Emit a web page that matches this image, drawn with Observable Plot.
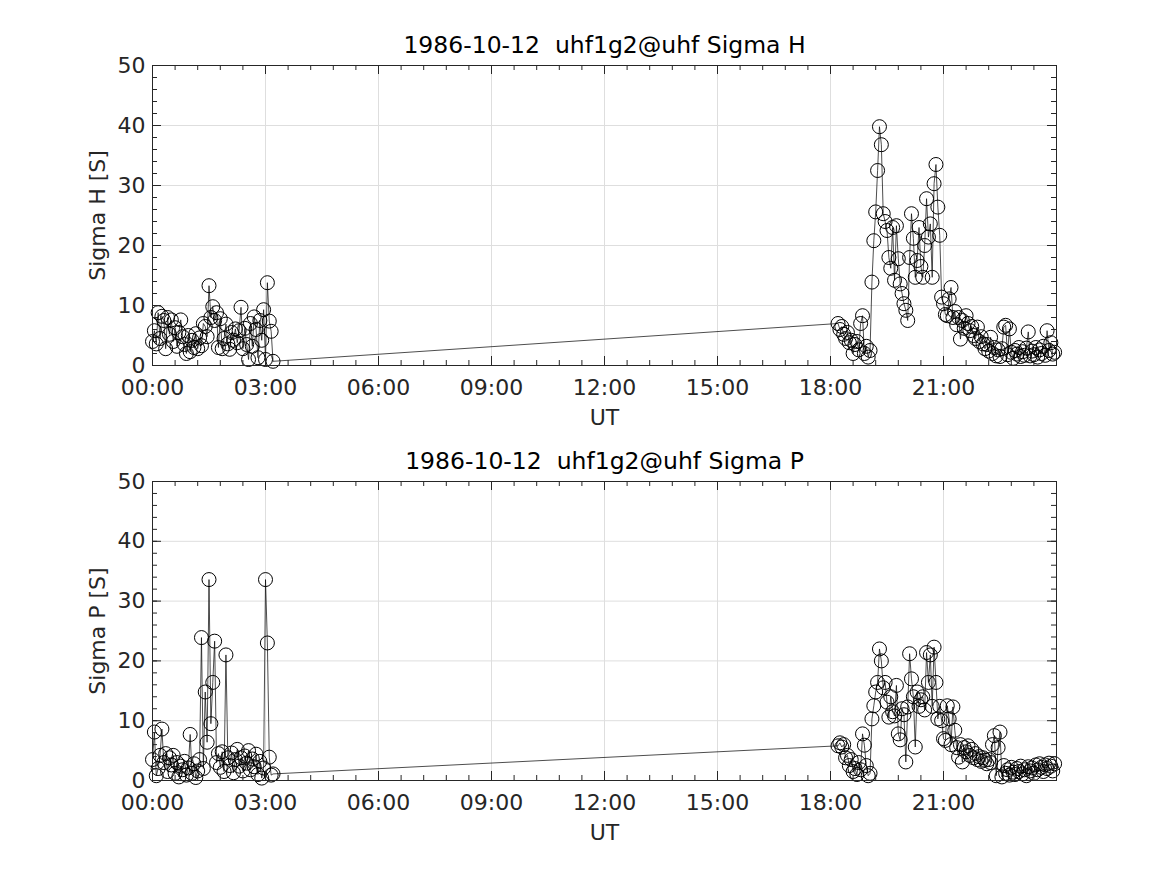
<!DOCTYPE html>
<html><head><meta charset="utf-8">
<script src="https://cdn.jsdelivr.net/npm/d3@7"></script>
<script src="https://cdn.jsdelivr.net/npm/@observablehq/plot@0.6"></script>
<style>
body{margin:0;background:#fff;}
#chart{position:relative;width:1167px;height:875px;background:#fff;overflow:hidden;}
#chart svg{position:absolute;left:0;display:block;}
</style></head><body><div id="chart"></div>
<script>
// Time of each sample, minutes after 00:00 UT
const timeMinutes = [
  0,3,6,9,12,15,18,21,24,27,
  30,33,36,39,42,45,48,51,54,57,
  60,63,66,69,72,75,78,81,84,87,
  90,93,96,99,102,105,108,111,114,117,
  120,123,126,129,132,135,138,141,144,147,
  150,153,156,159,162,165,168,171,174,177,
  180,183,186,189,192,
  1092,1095,1098,1101,1104,1107,
  1110,1113,1116,1119,1122,1125,
  1128,1131,1134,1137,1140,1143,
  1146,1149,1152,1155,1158,1161,
  1164,1167,1170,1173,1176,1179,
  1182,1185,1188,1191,1194,1197,
  1200,1203,1206,1209,1212,1215,
  1218,1221,1224,1227,1230,1233,
  1236,1239,1242,1245,1248,1251,
  1254,1257,1260,1263,1266,1269,
  1272,1275,1278,1281,1284,1287,
  1290,1293,1296,1299,1302,1305,
  1308,1311,1314,1317,1320,1323,
  1326,1329,1332,1335,1338,1341,
  1344,1347,1350,1353,1356,1359,
  1362,1365,1368,1371,1374,1377,
  1380,1383,1386,1389,1392,1395,
  1398,1401,1404,1407,1410,1413,
  1416,1419,1422,1425,1428,1431,
  1434,1437
];
// Hall conductance [S]
const sigmaH = [
  4.0,5.8,3.6,8.8,4.5,8.2,7.5,2.8,8.0,5.2,
  7.6,4.0,6.3,3.2,5.5,7.6,4.8,3.5,2.0,5.0,
  2.3,4.2,3.0,5.3,2.8,4.6,3.3,7.0,6.5,4.8,
  13.3,8.0,9.8,7.5,8.8,3.0,7.8,2.8,4.5,6.9,
  3.6,2.7,5.5,4.2,6.1,3.8,5.8,9.7,2.8,6.2,
  3.5,1.0,7.0,3.2,8.1,6.0,1.3,7.5,4.2,9.3,
  1.0,13.8,7.4,5.7,0.7,
  7.0,6.0,6.5,5.2,4.5,5.5,
  3.8,4.2,2.0,3.5,4.0,2.6,
  7.0,8.3,2.0,3.2,1.4,2.5,
  13.9,20.8,25.6,32.5,39.8,36.8,
  25.3,24.0,22.5,18.0,16.2,23.0,
  14.2,23.3,17.8,13.6,12.0,10.3,
  9.2,7.5,18.0,25.3,21.2,14.7,
  17.5,23.0,16.5,14.7,20.0,27.8,
  21.4,23.6,14.7,30.3,33.5,26.4,
  21.7,11.4,10.3,8.5,8.3,11.1,
  13.0,8.0,9.0,6.8,8.0,4.4,
  7.5,6.2,8.3,7.0,5.8,6.5,
  5.0,4.5,6.4,4.0,4.8,3.6,
  2.8,3.5,2.4,4.7,2.0,3.0,
  1.6,2.6,1.5,2.8,6.4,6.7,
  1.8,6.1,2.2,1.2,2.5,1.9,
  3.0,1.5,2.3,1.7,2.9,5.6,
  1.6,2.4,1.8,3.0,1.4,2.6,
  2.0,3.2,1.7,5.8,2.5,3.8,
  1.9,2.2
];
// Pedersen conductance [S]
const sigmaP = [
  3.5,8.1,0.8,2.0,4.2,8.6,3.0,4.5,1.5,3.8,
  2.6,4.2,1.2,3.0,0.6,2.4,1.8,3.2,0.9,2.1,
  7.7,1.2,2.8,0.5,1.6,3.5,23.9,2.0,14.8,6.4,
  33.6,9.5,16.4,23.3,3.0,4.5,2.2,4.8,1.5,21.0,
  3.8,2.5,4.6,1.3,3.5,5.2,2.4,3.8,1.6,4.1,
  2.9,5.0,1.8,3.6,2.3,4.4,1.0,3.2,0.4,2.1,
  33.6,23.0,3.9,0.9,1.1,
  5.8,6.3,5.6,6.0,3.8,4.2,
  2.5,3.5,1.5,2.0,1.0,3.0,
  1.8,7.8,5.9,2.5,0.8,1.2,
  10.3,12.5,14.8,16.4,22.0,20.0,
  15.5,16.4,13.1,10.6,14.0,11.5,
  10.8,15.9,7.8,6.8,12.0,11.0,
  3.1,12.3,21.2,17.0,14.0,5.6,
  14.8,12.4,13.5,14.0,11.8,21.4,
  16.4,21.0,12.4,22.3,16.4,10.3,
  12.4,10.0,7.0,6.7,12.5,10.3,
  6.0,12.3,8.4,5.5,3.9,6.0,
  3.1,5.5,4.8,5.8,4.2,5.2,
  3.8,4.5,3.5,4.0,3.2,3.8,
  3.4,2.8,3.5,3.0,6.0,7.5,
  0.8,5.5,8.1,0.6,2.5,1.2,
  1.8,0.9,2.2,1.4,1.0,2.0,
  1.5,2.4,1.1,1.8,0.8,2.3,
  1.6,2.1,1.2,2.6,1.8,2.8,
  2.2,1.5,2.6,2.0,2.9,2.4,
  1.6,2.8
];
const xTickMinutes = [0,180,360,540,720,900,1080,1260];
const xTickLabels = ["00:00","03:00","06:00","09:00","12:00","15:00","18:00","21:00"];
const yTicks = [0,10,20,30,40,50];
const titles = ["1986-10-12  uhf1g2@uhf Sigma H","1986-10-12  uhf1g2@uhf Sigma P"];
const yLabels = ["Sigma H [S]","Sigma P [S]"];
const xLabel = "UT";

if (sigmaH.length !== timeMinutes.length || sigmaP.length !== timeMinutes.length) {
  throw new Error("length mismatch " + timeMinutes.length + " " + sigmaH.length + " " + sigmaP.length);
}

const xMinor = d3.range(0, 1441, 36);
const yMinor = d3.range(0, 51, 2);
const ink = "#262626", gridColor = "#dedede";
const W = 1167, mL = 152, mR = 111;
const font = "'DejaVu Sans', sans-serif";

function panel(values, title, ylabel, top, height, mTop, mBottom) {
  const fw = W - mL - mR, fh = height - mTop - mBottom;
  const data = timeMinutes.map((t, i) => ({t, v: values[i]}));
  const svg = Plot.plot({
    width: W, height,
    marginLeft: mL, marginRight: mR, marginTop: mTop, marginBottom: mBottom,
    style: {fontFamily: font, fontSize: "22px", color: ink, background: "white", overflow: "visible"},
    x: {type: "linear", domain: [0, 1440]},
    y: {domain: [0, 50]},
    marks: [
      Plot.gridX(xTickMinutes, {stroke: gridColor, strokeOpacity: 1}),
      Plot.gridY(yTicks, {stroke: gridColor, strokeOpacity: 1}),
      Plot.line(data, {x: "t", y: "v", stroke: "black", strokeWidth: 0.7}),
      Plot.dot(data, {x: "t", y: "v", r: 7, stroke: "black", strokeWidth: 1, fill: "none"}),
      Plot.tickX(xMinor, {x: d => d, insetTop: fh - 5, stroke: ink}),
      Plot.tickX(xMinor, {x: d => d, insetBottom: fh - 5, stroke: ink}),
      Plot.tickX(xTickMinutes.concat([1440]), {x: d => d, insetTop: fh - 9, stroke: ink}),
      Plot.tickX(xTickMinutes.concat([1440]), {x: d => d, insetBottom: fh - 9, stroke: ink}),
      Plot.tickY(yMinor, {y: d => d, insetRight: fw - 5, stroke: ink}),
      Plot.tickY(yMinor, {y: d => d, insetLeft: fw - 5, stroke: ink}),
      Plot.tickY(yTicks, {y: d => d, insetRight: fw - 9, stroke: ink}),
      Plot.tickY(yTicks, {y: d => d, insetLeft: fw - 9, stroke: ink}),
      Plot.frame({stroke: ink}),
      Plot.axisX(xTickMinutes, {tickSize: 0, tickPadding: 14, fontSize: 22, label: null,
        tickFormat: d => xTickLabels[xTickMinutes.indexOf(d)]}),
      Plot.axisY(yTicks, {tickSize: 0, tickPadding: 7, fontSize: 22, label: null}),
      Plot.text([title], {text: d => d, frameAnchor: "top", dy: -20, fontSize: 23.5, textAnchor: "middle", lineAnchor: "middle", fill: "black"}),
      Plot.text([xLabel], {text: d => d, frameAnchor: "bottom", dy: 52, fontSize: 22, textAnchor: "middle", lineAnchor: "middle", fill: ink}),
      Plot.text([ylabel], {text: d => d, frameAnchor: "left", dx: -55, rotate: -90, fontSize: 22, textAnchor: "middle", lineAnchor: "middle", fill: ink})
    ]
  });
  svg.style.top = top + "px";
  return svg;
}

const chart = document.getElementById("chart");
chart.appendChild(panel(sigmaH, titles[0], yLabels[0], 0, 437, 65, 72));
chart.appendChild(panel(sigmaP, titles[1], yLabels[1], 437, 438, 44, 95));
</script>
</body></html>
